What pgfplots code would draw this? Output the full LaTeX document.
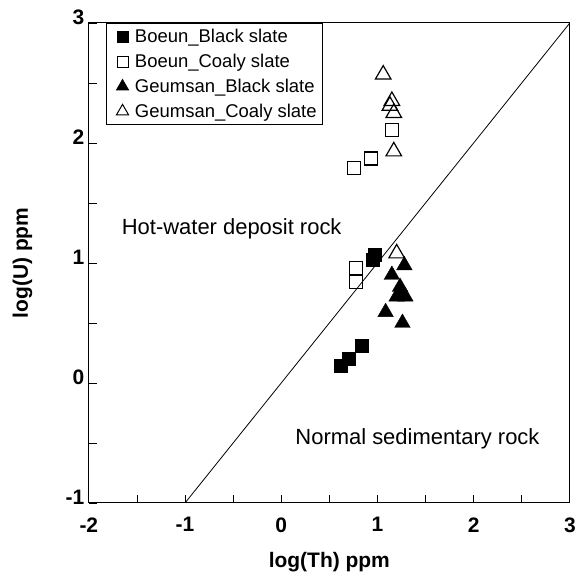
\documentclass[border=0pt]{standalone}
\usepackage{fontspec}
\setmainfont{Liberation Sans}
\usepackage{pgfplots}
\pgfplotsset{compat=1.18}
\begin{document}
\begin{tikzpicture}
\begin{axis}[
  at={(0,0)}, anchor=south west,
  scale only axis, width=482pt, height=481pt,
  xmin=-2, xmax=3, ymin=-1, ymax=3,
  xtick={-2,-1,0,1,2,3}, ytick={-1,0,1,2,3},
  minor xtick={-1.5,-0.5,0.5,1.5,2.5},
  minor ytick={-0.5,0.5,1.5,2.5},
  tick align=inside, xtick pos=bottom, ytick pos=left,
  major tick length=8pt, minor tick length=8pt,
  axis line style={line width=1pt},
  every tick/.style={line width=0.8pt, black},
  /pgf/number format/assume math mode=true,
  ticklabel style={font=\fontsize{21}{23}\selectfont\bfseries},
  xticklabel style={yshift=-11pt},
  yticklabel style={xshift=-1pt, yshift=5.5pt},
  xlabel={log(Th) ppm},
  ylabel={log(U) ppm},
  label style={font=\fontsize{21}{23}\selectfont\bfseries},
  xlabel style={at={(axis description cs:0.5,-0.124)}, anchor=center},
  ylabel style={at={(axis description cs:-0.138,0.5)}, anchor=center},
  legend style={at={(0.035,1)}, anchor=north west, draw=black, line width=0.8pt,
    font=\fontsize{18.5}{21}\selectfont, row sep=6pt, inner sep=4pt},
  legend cell align=left,
  legend image code/.code={\path[draw=none] (0,0) -- (23pt,0); \draw[#1] plot[only marks] coordinates {(12.5pt,0pt)};},
]
\addplot[mark=square*, only marks, mark size=6.5pt, black,
  legend image post style={mark size=5.5pt}] coordinates {
 (0.976,1.065) (0.95,1.03) (0.837,0.31) (0.70,0.20) (0.62,0.14)
};
\addlegendentry{Boeun\_Black slate}
\addplot[mark=square, only marks, mark size=6.5pt, black, mark options={line width=1.2pt, fill=white},
  legend image post style={mark size=5.5pt, mark options={line width=1pt}}] coordinates {
 (0.775,0.955) (0.775,0.84) (1.15,2.11) (0.935,1.87) (0.76,1.79)
};
\addlegendentry{Boeun\_Coaly slate}
\addplot[mark=triangle*, only marks, mark size=9pt, black,
  legend image post style={mark size=7pt}] coordinates {
 (1.28,0.98) (1.15,0.90) (1.235,0.80) (1.25,0.745) (1.20,0.72) (1.29,0.72) (1.085,0.59) (1.26,0.50)
};
\addlegendentry{Geumsan\_Black slate}
\addplot[mark=triangle, only marks, mark size=9pt, black, mark options={line width=1.2pt},
  legend image post style={mark size=7pt, mark options={line width=1pt}}] coordinates {
 (1.2,1.08) (1.06,2.57) (1.15,2.35) (1.13,2.31) (1.17,2.25) (1.17,1.93)
};
\addlegendentry{Geumsan\_Coaly slate}
\addplot[black, line width=0.8pt, forget plot] coordinates {(-1,-1) (3,3)};
\node[font=\fontsize{22}{24}\selectfont] at (axis cs:-0.515,1.285) {Hot-water deposit rock};
\node[font=\fontsize{22}{24}\selectfont] at (axis cs:1.416,-0.465) {Normal sedimentary rock};
\end{axis}
\useasboundingbox (-89pt,-75pt) rectangle (489pt,504pt);
\end{tikzpicture}
\end{document}
